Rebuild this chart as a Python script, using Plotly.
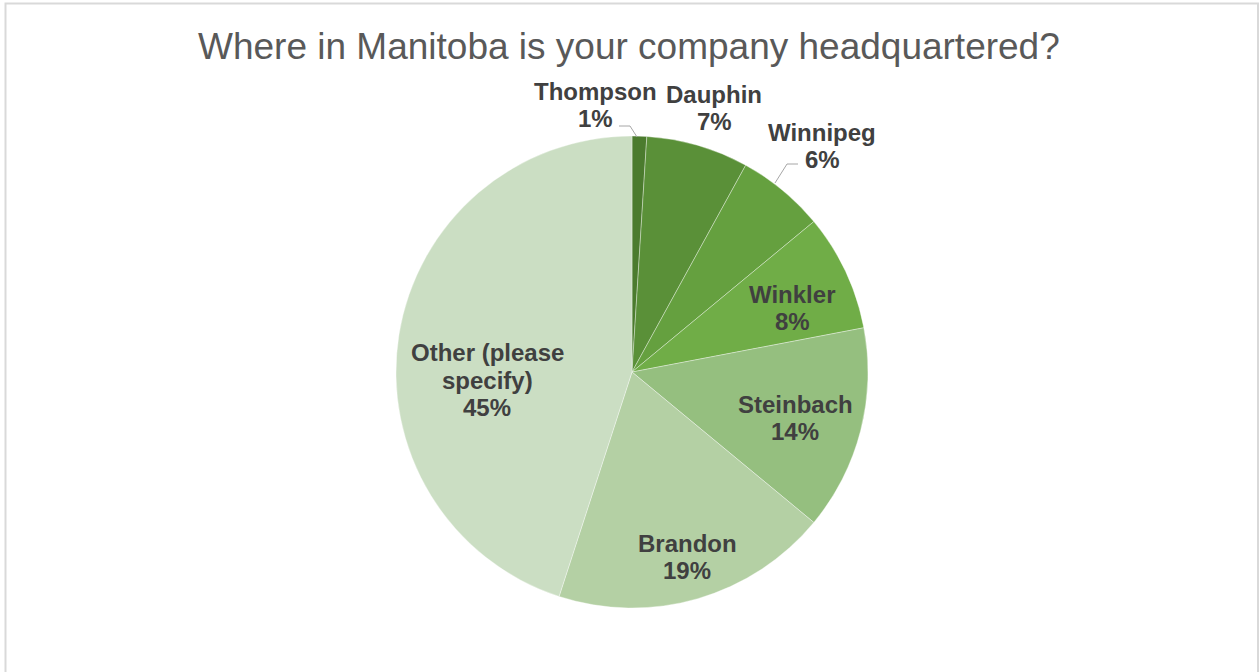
import plotly.graph_objects as go

# Survey answers: where the company is headquartered (share of respondents, %)
cities = ["Thompson", "Dauphin", "Winnipeg", "Winkler", "Steinbach", "Brandon", "Other (please specify)"]
shares = [1, 7, 6, 8, 14, 19, 45]
label_lines = [["Thompson"], ["Dauphin"], ["Winnipeg"], ["Winkler"], ["Steinbach"], ["Brandon"],
               ["Other (please", "specify)"]]

slice_colors = ["#4b7b2e", "#5a9038", "#65a03f", "#70ad47", "#95bf7f", "#b4d0a4", "#cbdec3"]

W, H = 1259, 672
CX, CY, R = 632, 372, 236

# label block centres in page pixels
label_centres = [(595, 105), (714, 108), (822, 146), (792, 308), (795, 418), (687, 557), (487, 380)]
LINE_GAP = 27.5


def px(x):
    return x / W


def py(y):
    return 1 - y / H


fig = go.Figure(go.Pie(
    labels=cities,
    values=shares,
    sort=False,
    direction="clockwise",
    rotation=0,
    marker=dict(colors=slice_colors, line=dict(color="rgba(255,255,255,0.45)", width=0.8)),
    textinfo="none",
    hoverinfo="label+percent",
    showlegend=False,
    domain=dict(x=[px(CX - R), px(CX + R)], y=[py(CY + R), py(CY - R)]),
))

annotations = []
for lines, share, (lx, ly) in zip(label_lines, shares, label_centres):
    rows = lines + [f"{share}%"]
    top = ly - LINE_GAP * (len(rows) - 1) / 2
    for i, row in enumerate(rows):
        annotations.append(dict(
            x=px(lx), y=py(top + i * LINE_GAP), xref="paper", yref="paper",
            text=f"<b>{row}</b>", showarrow=False, xanchor="center", yanchor="middle",
            font=dict(family="Liberation Sans, Arial, sans-serif", size=24, color="#404040"),
        ))

annotations.append(dict(
    x=px(629), y=py(47), xref="paper", yref="paper",
    text="Where in Manitoba is your company headquartered?", showarrow=False,
    xanchor="center", yanchor="middle",
    font=dict(family="Liberation Sans, Arial, sans-serif", size=37, color="#595959"),
))


def polyline(points):
    path = "M " + " L ".join(f"{px(x)},{py(y)}" for x, y in points)
    return dict(type="path", path=path, xref="paper", yref="paper",
                line=dict(color="#a6a6a6", width=1))


shapes = [
    # chart area border
    dict(type="rect", xref="paper", yref="paper", x0=px(5.5), x1=px(1258), y0=py(700), y1=py(3.5),
         line=dict(color="#d9d9d9", width=2), fillcolor="rgba(0,0,0,0)"),
    # leader lines for the small slices
    polyline([(619, 126), (630, 126), (637, 137)]),
    polyline([(798, 164), (787, 164), (775, 183)]),
]

fig.update_layout(
    width=W, height=H,
    margin=dict(l=0, r=0, t=0, b=0),
    paper_bgcolor="white",
    plot_bgcolor="white",
    annotations=annotations,
    shapes=shapes,
)

fig.write_html("out.html")
